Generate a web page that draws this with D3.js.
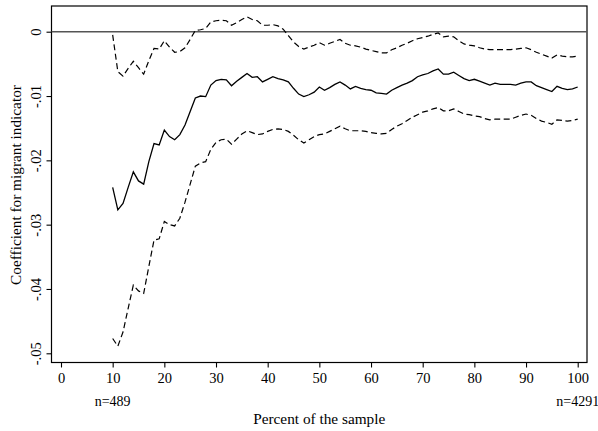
<!DOCTYPE html>
<html>
<head>
<meta charset="utf-8">
<script src="https://cdn.jsdelivr.net/npm/d3@7"></script>
<style>
    body { margin: 0; background: #fff; }
    svg text { font-family: 'Liberation Serif', 'Times New Roman', serif; fill: #000; }
</style>
</head>
<body>
<div id="chart"></div>
<script>
// percent of the sample used, 10..100 in steps of 1
const percents = d3.range(10, 101);

const estimate = [
    -0.0242, -0.0277, -0.0267, -0.0242, -0.0218, -0.0232, -0.0237, -0.0202, -0.0174, -0.0176,
    -0.0153, -0.0163, -0.0168, -0.0160, -0.0145, -0.0124, -0.0103, -0.0100, -0.0101, -0.0083,
    -0.0076, -0.0074, -0.0075, -0.0084, -0.0077, -0.0071, -0.0065, -0.0071, -0.0070, -0.0078,
    -0.0074, -0.0070, -0.0073, -0.0075, -0.0078, -0.0088, -0.0097, -0.0101, -0.0098, -0.0094,
    -0.0086, -0.0091, -0.0087, -0.0082, -0.0078, -0.0083, -0.0089, -0.0085, -0.0088, -0.0090,
    -0.0091, -0.0095, -0.0096, -0.0097, -0.0091, -0.0087, -0.0083, -0.0080, -0.0076, -0.0070,
    -0.0067, -0.0065, -0.0061, -0.0058, -0.0066, -0.0066, -0.0063, -0.0068, -0.0073, -0.0076,
    -0.0074, -0.0077, -0.0080, -0.0083, -0.0080, -0.0082, -0.0082, -0.0082, -0.0083, -0.0080,
    -0.0078, -0.0078, -0.0084, -0.0087, -0.0090, -0.0093, -0.0085, -0.0088, -0.0090, -0.0089,
    -0.0086
];

const upper = [
    -0.0005, -0.0062, -0.0069, -0.0057, -0.0046, -0.0056, -0.0066, -0.0045, -0.0026, -0.0027,
    -0.0014, -0.0024, -0.0032, -0.0031, -0.0025, -0.0012, 0.0002, 0.0003, 0.0005, 0.0015,
    0.0017, 0.0018, 0.0017, 0.0010, 0.0014, 0.0019, 0.0023, 0.0019, 0.0017, 0.0010,
    0.0010, 0.0011, 0.0009, 0.0004, -0.0006, -0.0016, -0.0023, -0.0027, -0.0024, -0.0021,
    -0.0017, -0.0021, -0.0018, -0.0015, -0.0012, -0.0018, -0.0021, -0.0022, -0.0024, -0.0027,
    -0.0029, -0.0031, -0.0033, -0.0033, -0.0028, -0.0025, -0.0021, -0.0018, -0.0014, -0.0011,
    -0.0009, -0.0007, -0.0004, -0.0002, -0.0008, -0.0007, -0.0008, -0.0014, -0.0019, -0.0021,
    -0.0022, -0.0025, -0.0027, -0.0028, -0.0028, -0.0028, -0.0028, -0.0028, -0.0027, -0.0026,
    -0.0025, -0.0028, -0.0032, -0.0035, -0.0038, -0.0041, -0.0036, -0.0038, -0.0039, -0.0039,
    -0.0038
];

const lower = [
    -0.0477, -0.0489, -0.0467, -0.0430, -0.0394, -0.0403, -0.0407, -0.0365, -0.0324, -0.0322,
    -0.0295, -0.0300, -0.0302, -0.0290, -0.0265, -0.0237, -0.0209, -0.0204, -0.0202, -0.0183,
    -0.0172, -0.0168, -0.0167, -0.0175, -0.0167, -0.0159, -0.0154, -0.0157, -0.0160, -0.0159,
    -0.0155, -0.0152, -0.0151, -0.0152, -0.0155, -0.0161, -0.0168, -0.0173, -0.0168, -0.0163,
    -0.0160, -0.0159, -0.0155, -0.0151, -0.0147, -0.0151, -0.0154, -0.0154, -0.0154, -0.0155,
    -0.0157, -0.0158, -0.0159, -0.0158, -0.0152, -0.0147, -0.0143, -0.0138, -0.0133, -0.0129,
    -0.0125, -0.0123, -0.0120, -0.0118, -0.0123, -0.0123, -0.0120, -0.0124, -0.0128, -0.0129,
    -0.0131, -0.0132, -0.0135, -0.0137, -0.0136, -0.0136, -0.0136, -0.0136, -0.0133, -0.0130,
    -0.0128, -0.0130, -0.0135, -0.0139, -0.0141, -0.0144, -0.0137, -0.0138, -0.0139, -0.0138,
    -0.0136
];

const xTicks = [0, 10, 20, 30, 40, 50, 60, 70, 80, 90, 100];
const yTicks = [0, -0.01, -0.02, -0.03, -0.04, -0.05];
const yTickLabels = ['0', '-.01', '-.02', '-.03', '-.04', '-.05'];
const sampleNotes = [{ pct: 10, label: 'n=489' }, { pct: 100, label: 'n=4291' }];

const width = 598, height = 431;
const frame = { left: 51.5, right: 587, top: 6, bottom: 362.5 };

const svg = d3.select('#chart')
    .append('svg')
    .attr('width', width)
    .attr('height', height);

const x = d3.scaleLinear().domain([0, 100]).range([61, 577.7]);
const y = d3.scaleLinear().domain([-0.05, 0]).range([353.3, 31.7]);

// plot frame
svg.append('rect')
    .attr('x', frame.left)
    .attr('y', frame.top)
    .attr('width', frame.right - frame.left)
    .attr('height', frame.bottom - frame.top)
    .attr('fill', 'none')
    .attr('stroke', '#000')
    .attr('stroke-width', 1.2);

// reference line at zero
svg.append('line')
    .attr('x1', frame.left)
    .attr('x2', frame.right)
    .attr('y1', y(0))
    .attr('y2', y(0))
    .attr('stroke', '#555')
    .attr('stroke-width', 1.5);

// x axis
const xAxis = svg.append('g')
    .attr('transform', `translate(0,${frame.bottom})`)
    .call(d3.axisBottom(x).tickValues(xTicks).tickSize(5).tickSizeOuter(0));
xAxis.select('.domain').remove();
xAxis.selectAll('line').attr('stroke', '#000').attr('stroke-width', 1.1);
xAxis.selectAll('text')
    .style('font-size', '14.5px')
    .attr('dy', null)
    .attr('y', 20.5);

// y axis, rotated labels
const yAxis = svg.append('g')
    .attr('transform', `translate(${frame.left},0)`)
    .call(d3.axisLeft(y).tickValues(yTicks).tickSize(5).tickSizeOuter(0)
        .tickFormat((d, i) => yTickLabels[i]));
yAxis.select('.domain').remove();
yAxis.selectAll('line').attr('stroke', '#000').attr('stroke-width', 1.1);
yAxis.selectAll('text')
    .style('font-size', '14.5px')
    .attr('x', null)
    .attr('dy', null)
    .attr('text-anchor', 'middle')
    .attr('transform', 'translate(-11,0) rotate(-90)');

// sample size notes
svg.selectAll('.note')
    .data(sampleNotes)
    .enter()
    .append('text')
    .attr('class', 'note')
    .attr('x', d => x(d.pct))
    .attr('y', 406)
    .attr('text-anchor', 'middle')
    .style('font-size', '14px')
    .text(d => d.label);

// axis titles
svg.append('text')
    .attr('x', (frame.left + frame.right) / 2)
    .attr('y', 423.5)
    .attr('text-anchor', 'middle')
    .style('font-size', '15.3px')
    .text('Percent of the sample');

svg.append('text')
    .attr('transform', `translate(20.5,185) rotate(-90)`)
    .attr('text-anchor', 'middle')
    .style('font-size', '15.3px')
    .text('Coefficient for migrant indicator');

// series
const line = values => d3.line()
    .x((d, i) => x(percents[i]))
    .y(d => y(d))(values);

svg.append('path')
    .attr('d', line(upper))
    .attr('fill', 'none')
    .attr('stroke', '#000')
    .attr('stroke-width', 1.2)
    .attr('stroke-dasharray', '6,3.5');

svg.append('path')
    .attr('d', line(lower))
    .attr('fill', 'none')
    .attr('stroke', '#000')
    .attr('stroke-width', 1.2)
    .attr('stroke-dasharray', '6,3.5');

svg.append('path')
    .attr('d', line(estimate))
    .attr('fill', 'none')
    .attr('stroke', '#000')
    .attr('stroke-width', 1.3);
</script>
</body>
</html>
